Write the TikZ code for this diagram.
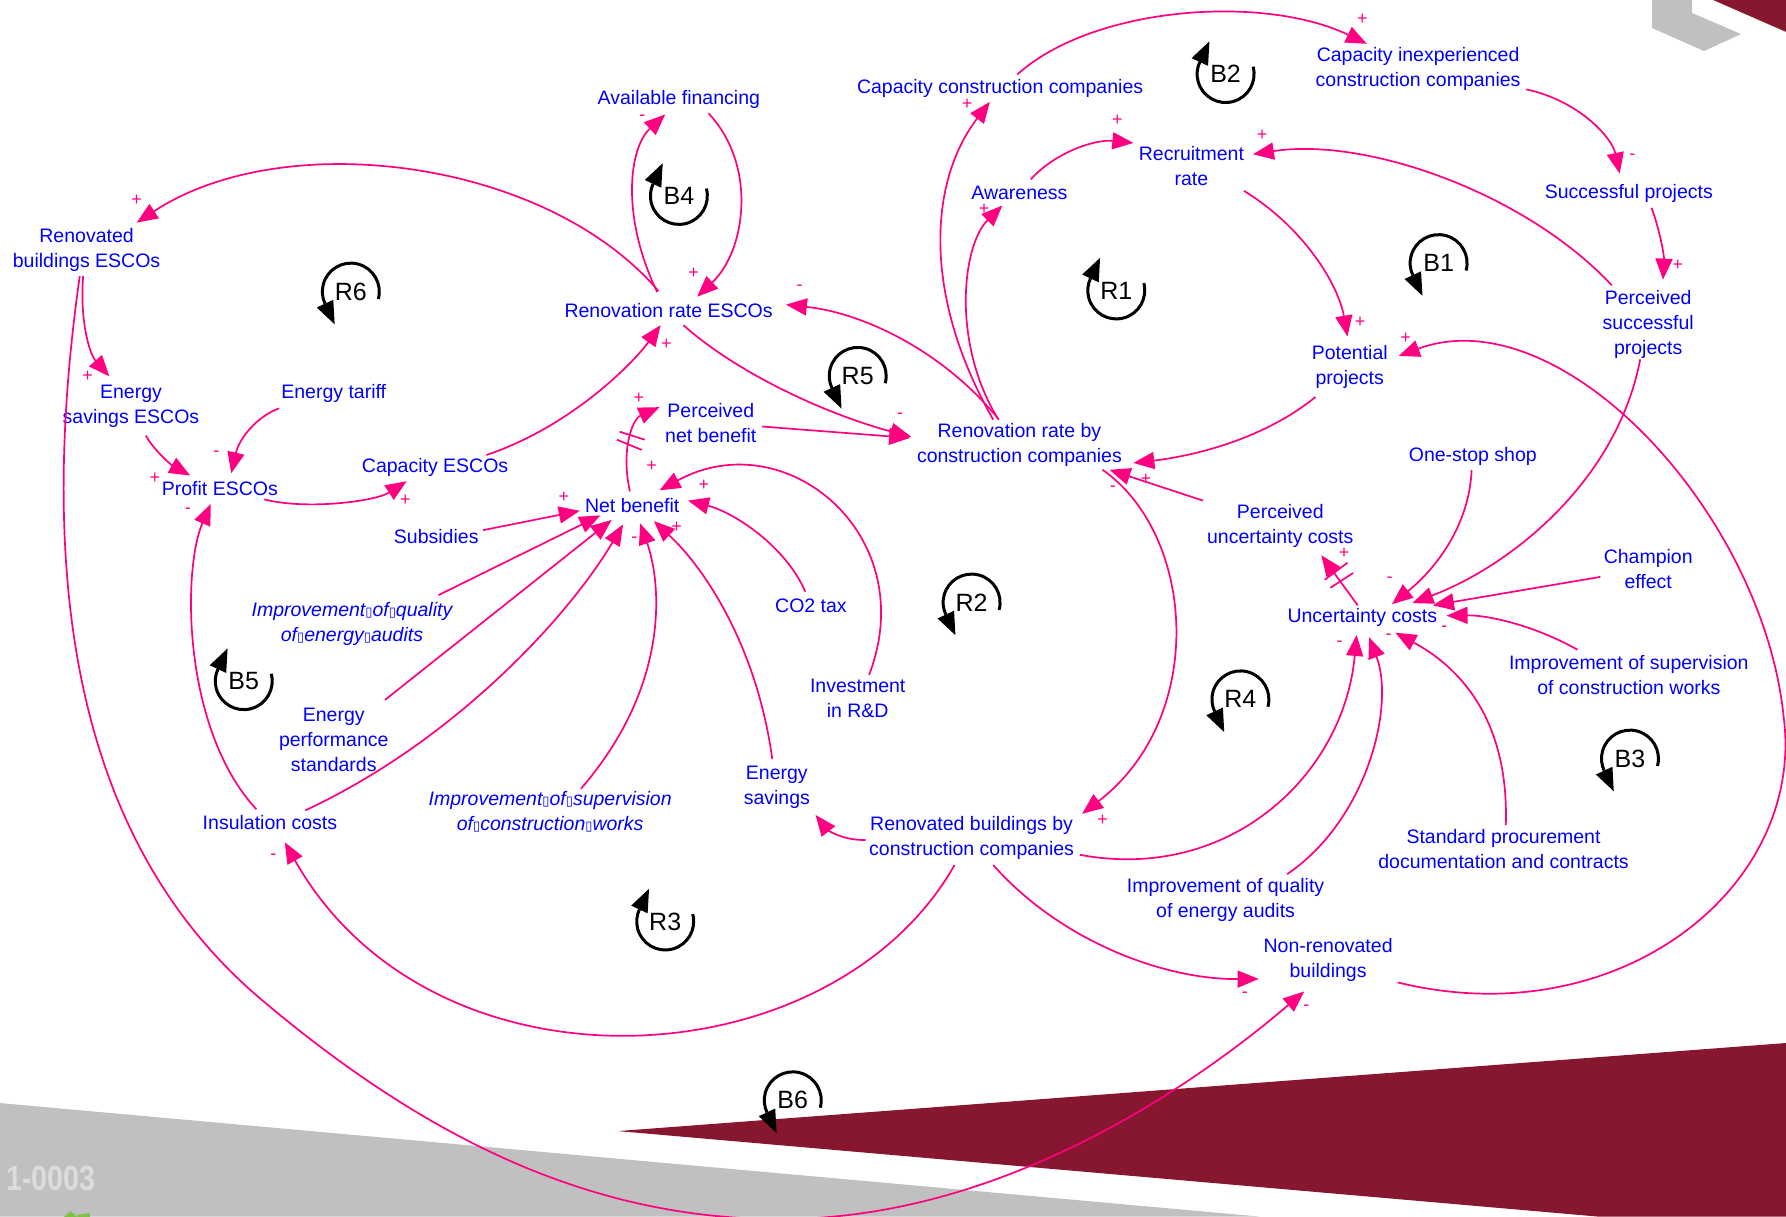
\documentclass[tikz,border=0pt]{standalone}
\usepackage{fontspec}
\setmainfont{Liberation Sans}
\newfontfamily\dejavu{DejaVu Sans}
\usetikzlibrary{arrows.meta}
\definecolor{txtblue}{RGB}{0,0,255}
\definecolor{linkpink}{RGB}{255,0,128}
\definecolor{wine}{RGB}{135,22,47}
\definecolor{bggray}{RGB}{192,192,192}
\definecolor{numgray}{RGB}{220,220,220}
\definecolor{leaf}{RGB}{125,194,66}
\newcommand{\tfbox}{{\dejavu\upshape\fontsize{13}{13}\selectfont ▯}}
\begin{document}
\begin{tikzpicture}[x=1.139pt,y=-1.139pt,
  var/.style={text=txtblue,font=\fontsize{19.5}{25}\selectfont,align=center,inner sep=1pt,yshift=-2.8pt},
  ivar/.style={text=txtblue,font=\fontsize{19.5}{25}\selectfont\itshape,align=center,inner sep=1pt,yshift=-2.8pt},
  arr/.style={draw=linkpink,line width=1.7pt,-{Triangle[length=21pt,width=17pt]}},
  delaymark/.style={draw=linkpink,line width=1.7pt},
  sgn/.style={text=linkpink,font=\fontsize{18}{18}\selectfont,inner sep=0pt},
  lp/.style={draw=black,line width=3pt},
  lpt/.style={font=\fontsize{25}{25}\selectfont,inner sep=0pt}]
\useasboundingbox (0,0) rectangle (1568,1068);
% background decorations
\fill[bggray] (0,968.4) -- (1105.4,1068) -- (0,1068) -- cycle;
\fill[wine] (542.6,993) -- (1568,915.7) -- (1568,1068) -- (1402,1068) -- cycle;
\fill[bggray] (1450.4,0) -- (1450.4,24.6) -- (1496,44.8) -- (1528.5,29.9) -- (1485.5,11.4) -- (1485.5,0) -- cycle;
\fill[wine] (1504,0) -- (1568,28) -- (1568,0) -- cycle;
\fill[leaf] (56,1068.5) -- (62,1063.5) -- (68,1068.5) -- cycle;
\fill[leaf] (68,1066.5) -- (79,1065) -- (79,1068.5) -- (68,1068.5) -- cycle;
\node[anchor=east,text=numgray,font=\fontsize{35}{35}\selectfont\bfseries,xscale=0.82,inner sep=0pt] (code) at (84,1035) {1-0003};

% variables
\node[var] (avf) at (596,85) {Available financing};
\node[var] (ccc) at (878,75) {Capacity construction companies};
\node[var] (cic) at (1245,58) {Capacity inexperienced\\construction companies};
\node[var] (rec) at (1046,143) {Recruitment\\rate};
\node[var] (awa) at (895,167) {Awareness};
\node[var] (suc) at (1430,167) {Successful projects};
\node[var] (rbe) at (76,217) {Renovated\\buildings ESCOs};
\node[var] (rre) at (587,270) {Renovation rate ESCOs};
\node[var] (pss) at (1447,282) {Perceived\\successful\\projects};
\node[var] (pot) at (1185,320) {Potential\\projects};
\node[var] (ese) at (115,354) {Energy\\savings ESCOs};
\node[var] (eta) at (293,343) {Energy tariff};
\node[var] (pnb) at (624,369) {Perceived\\net benefit};
\node[var] (rrc) at (895,388) {Renovation rate by\\construction companies};
\node[var] (cap) at (382,408) {Capacity ESCOs};
\node[var] (pro) at (193,426) {Profit ESCOs};
\node[var] (net) at (555,441) {Net benefit};
\node[var] (sub) at (383,469) {Subsidies};
\node[var] (oss) at (1293,398) {One-stop shop};
\node[var] (puc) at (1124,459) {Perceived\\uncertainty costs};
\node[var] (cha) at (1447,497) {Champion\\effect};
\node[var] (unc) at (1196,540) {Uncertainty costs};
\node[var] (co2) at (712,529) {CO2 tax};
\node[ivar] (iqa) at (309,545) {Improvement\tfbox of\tfbox quality\\of\tfbox energy\tfbox audits};
\node[var] (isr) at (1430,590) {Improvement of supervision\\of construction works};
\node[var] (ird) at (753,611) {Investment\\in R\&D};
\node[var] (eps) at (293,647) {Energy\\performance\\standards};
\node[var] (esv) at (682,689) {Energy\\savings};
\node[ivar] (isv) at (483,710) {Improvement\tfbox of\tfbox supervision\\of\tfbox construction\tfbox works};
\node[var] (ins) at (237,720) {Insulation costs};
\node[var] (rbc) at (853,733) {Renovated buildings by\\construction companies};
\node[var] (spd) at (1320,743) {Standard procurement\\documentation and contracts};
\node[var] (iqr) at (1076,788) {Improvement of quality\\of energy audits};
\node[var] (nrb) at (1166,840) {Non-renovated\\buildings};

% links
\draw[arr] ([shift={(15,-12)}]ccc.center) .. controls (960,5) and (1110,-5) .. ([shift={(-45,-22)}]cic.center);
\draw[arr] ([shift={(95,18)}]cic.center) .. controls (1385,88) and (1415,120) .. ([shift={(-8,-17)}]suc.center);
\draw[arr] ([shift={(20,13)}]suc.center) .. controls (1458,205) and (1461,225) .. ([shift={(13,-39)}]pss.center);
\draw[arr] ([shift={(-32,-34)}]pss.center) .. controls (1340,170) and (1200,120) .. ([shift={(54,-10)}]rec.center);
\draw[arr] ([shift={(-7,31)}]pss.center) .. controls (1420,420) and (1330,495) .. ([shift={(44,-13)}]unc.center);
\draw[arr] ([shift={(46,22)}]rec.center) .. controls (1145,200) and (1175,250) .. ([shift={(-2,-27)}]pot.center);
\draw[arr] ([shift={(10,-12)}]awa.center) .. controls (925,135) and (960,122) .. ([shift={(-51,-20)}]rec.center);
\draw[arr] ([shift={(-19,-23)}]rrc.center) .. controls (835,300) and (845,215) .. ([shift={(-15,11)}]awa.center);
\draw[arr] ([shift={(-23,-22)}]rrc.center) .. controls (810,260) and (815,160) .. ([shift={(-9,12)}]ccc.center);
\draw[arr] ([shift={(-18,-22)}]rrc.center) .. controls (830,310) and (760,275) .. ([shift={(103,-5)}]rre.center);
\draw[arr] ([shift={(13,13)}]rre.center) .. controls (650,330) and (730,365) .. ([shift={(-95,-7)}]rrc.center);
\draw[arr] ([shift={(45,3)}]pnb.center) -- ([shift={(-96,-6)}]rrc.center);
\draw[arr] ([shift={(-30,26)}]pot.center) .. controls (1110,385) and (1050,400) .. ([shift={(100,16)}]rrc.center);
\draw[arr] ([shift={(-68,-22)}]puc.center) -- ([shift={(79,22)}]rrc.center);
\draw[arr] ([shift={(73,22)}]rrc.center) .. controls (1050,470) and (1060,630) .. ([shift={(97,-21)}]rbc.center);
\draw[arr] ([shift={(-93,2)}]rbc.center) .. controls (738,738) and (725,727) .. ([shift={(34,24)}]esv.center);
\draw[arr] ([shift={(95,15)}]rbc.center) .. controls (1080,775) and (1180,680) .. ([shift={(-5,15)}]unc.center);
\draw[arr] ([shift={(54,-23)}]iqr.center) .. controls (1200,720) and (1225,620) .. ([shift={(6,17)}]unc.center);
\draw[arr] ([shift={(2,-21)}]spd.center) .. controls (1325,630) and (1280,585) .. ([shift={(29,13)}]unc.center);
\draw[arr] ([shift={(-45,-22)}]isr.center) .. controls (1345,548) and (1305,540) .. ([shift={(74,-2)}]unc.center);
\draw[arr] ([shift={(-42,7)}]cha.center) -- ([shift={(62,-11)}]unc.center);
\draw[arr] ([shift={(-1,12)}]oss.center) .. controls (1290,460) and (1262,498) .. ([shift={(26,-12)}]unc.center);
\draw[arr] ([shift={(-4,-11)}]unc.center) -- ([shift={(36,26)}]puc.center);
\draw[arr] ([shift={(61,20)}]nrb.center) .. controls (1420,910) and (1585,780) .. (1566,630) .. controls (1548,450) and (1370,260) .. ([shift={(43,-10)}]pot.center);
\draw[arr] ([shift={(19,24)}]rbc.center) .. controls (930,825) and (1020,860) .. ([shift={(-61,17)}]nrb.center);
\draw[arr] ([shift={(-15,24)}]rbc.center) .. controls (730,950) and (380,970) .. ([shift={(13,17)}]ins.center);
\draw[arr] ([shift={(-6,23)}]rbe.center) .. controls (25,560) and (90,760) .. (230,878) .. controls (370,996) and (520,1075) .. (700,1070) .. controls (880,1065) and (1040,960) .. ([shift={(-21,28)}]nrb.center);
\draw[arr] ([shift={(-9,-17)}]rre.center) .. controls (480,140) and (250,110) .. ([shift={(44,-24)}]rbe.center);
\draw[arr] ([shift={(-3,23)}]rbe.center) .. controls (70,280) and (78,310) .. ([shift={(-19,-26)}]ese.center);
\draw[arr] ([shift={(13,26)}]ese.center) .. controls (135,395) and (150,408) .. ([shift={(-26,-11)}]pro.center);
\draw[arr] ([shift={(-48,13)}]eta.center) .. controls (225,366) and (210,385) .. ([shift={(10,-13)}]pro.center);
\draw[arr] ([shift={(39,10)}]pro.center) .. controls (270,448) and (330,440) .. ([shift={(-25,12)}]cap.center);
\draw[arr] ([shift={(45,-11)}]cap.center) .. controls (500,375) and (555,320) .. ([shift={(-7,13)}]rre.center);
\draw[arr] ([shift={(-10,-16)}]rre.center) .. controls (545,190) and (552,130) .. ([shift={(-12,13)}]avf.center);
\draw[arr] ([shift={(26,12)}]avf.center) .. controls (665,145) and (655,220) .. ([shift={(25,-12)}]rre.center);
\draw[arr] ([shift={(-2,-12)}]net.center) .. controls (545,395) and (555,368) .. ([shift={(-45,-14)}]pnb.center);
\draw[arr] ([shift={(41,-6)}]sub.center) -- ([shift={(-46,5)}]net.center);
\draw[arr] ([shift={(76,-25)}]iqa.center) -- ([shift={(-28,9)}]net.center);
\draw[arr] ([shift={(45,-35)}]eps.center) -- ([shift={(-18,13)}]net.center);
\draw[arr] ([shift={(31,-11)}]ins.center) .. controls (400,650) and (500,540) .. ([shift={(-8,17)}]net.center);
\draw[arr] ([shift={(27,-20)}]isv.center) .. controls (590,600) and (580,510) .. ([shift={(7,16)}]net.center);
\draw[arr] ([shift={(-4,-25)}]esv.center) .. controls (665,570) and (620,500) .. ([shift={(19,14)}]net.center);
\draw[arr] ([shift={(-5,-12)}]co2.center) .. controls (690,480) and (645,450) .. ([shift={(49,-4)}]net.center);
\draw[arr] ([shift={(10,-21)}]ird.center) .. controls (810,470) and (690,370) .. ([shift={(24,-13)}]net.center);
\draw[arr] ([shift={(-12,-12)}]ins.center) .. controls (160,640) and (160,500) .. ([shift={(-8,14)}]pro.center);

% delay marks
\draw[delaymark] (544,379) -- (566,386);
\draw[delaymark] (541.5,386) -- (563.5,395);
\draw[delaymark] (1163,509) -- (1183,494);
\draw[delaymark] (1168,516) -- (1188,503);

% polarity signs
\node[sgn] (s1) at (1196,17) {+};
\node[sgn] (s2) at (1433,138) {-};
\node[sgn] (s3) at (1473,233) {+};
\node[sgn] (s4) at (1108,119) {+};
\node[sgn] (s6) at (1194,283) {+};
\node[sgn] (s7) at (981,106) {+};
\node[sgn] (s8) at (864,184) {+};
\node[sgn] (s9) at (849,92) {+};
\node[sgn] (s10) at (702,253) {-};
\node[sgn] (s11) at (790,365) {-};
\node[sgn] (s14a) at (1006,421) {+};
\node[sgn] (s14b) at (977,429) {-};
\node[sgn] (s15) at (968,720) {+};
\node[sgn] (s17) at (1176,565) {-};
\node[sgn] (s19) at (1219,559) {-};
\node[sgn] (s22) at (1220,509) {-};
\node[sgn] (s21) at (1268,552) {-};
\node[sgn] (s23) at (1180,486) {+};
\node[sgn] (s24) at (1234,297) {+};
\node[sgn] (s25) at (1093,873) {-};
\node[sgn] (s26) at (240,752) {-};
\node[sgn] (s27) at (1147,885) {-};
\node[sgn] (s28) at (120,176) {+};
\node[sgn] (s29) at (77,330) {+};
\node[sgn] (s30) at (136,420) {+};
\node[sgn] (s31) at (190,398) {-};
\node[sgn] (s32) at (356,439) {+};
\node[sgn] (s33) at (585,302) {+};
\node[sgn] (s34a) at (564,103) {-};
\node[sgn] (s34b) at (609,240) {+};
\node[sgn] (s35) at (561,350) {+};
\node[sgn] (s36) at (495,437) {+};
\node[sgn] (s39) at (557,474) {-};
\node[sgn] (s41) at (594,463) {+};
\node[sgn] (s42) at (618,426) {+};
\node[sgn] (s43) at (572,409) {+};
\node[sgn] (s44) at (165,448) {-};

% loop symbols: type A (clockwise on screen, arrow at top-left pointing up)
\node[lpt] (lB2) at (1076,65) {B2};
\node[lpt] (lB4) at (596,172) {B4};
\node[lpt] (lR1) at (980,255) {R1};
\node[lpt] (lB5) at (214,598) {B5};
\node[lpt] (lR3) at (584,809) {R3};
\foreach \n in {lB2,lB4,lR1,lB5,lR3}{
  \draw[lp] ([shift={(-15:25)}]\n.center) arc[start angle=-15,end angle=205,radius=25];
  \fill ([shift={(-14.2,-28.7)}]\n.center) -- ([shift={(-29.9,-13.95)}]\n.center) -- ([shift={(-15.4,-7.2)}]\n.center) -- cycle;
}
% type B (counter-clockwise on screen, arrow at bottom-left pointing down)
\node[lpt] (lR6) at (308,256) {R6};
\node[lpt] (lB1) at (1263,231) {B1};
\node[lpt] (lR5) at (753,330) {R5};
\node[lpt] (lR2) at (853,529) {R2};
\node[lpt] (lR4) at (1089,614) {R4};
\node[lpt] (lB3) at (1431,666) {B3};
\node[lpt] (lB6) at (696,966) {B6};
\foreach \n in {lR6,lB1,lR5,lR2,lR4,lB3,lB6}{
  \draw[lp] ([shift={(15:25)}]\n.center) arc[start angle=15,end angle=-205,radius=25];
  \fill ([shift={(-14.2,28.7)}]\n.center) -- ([shift={(-29.9,13.95)}]\n.center) -- ([shift={(-15.4,7.2)}]\n.center) -- cycle;
}
\end{tikzpicture}
\end{document}
